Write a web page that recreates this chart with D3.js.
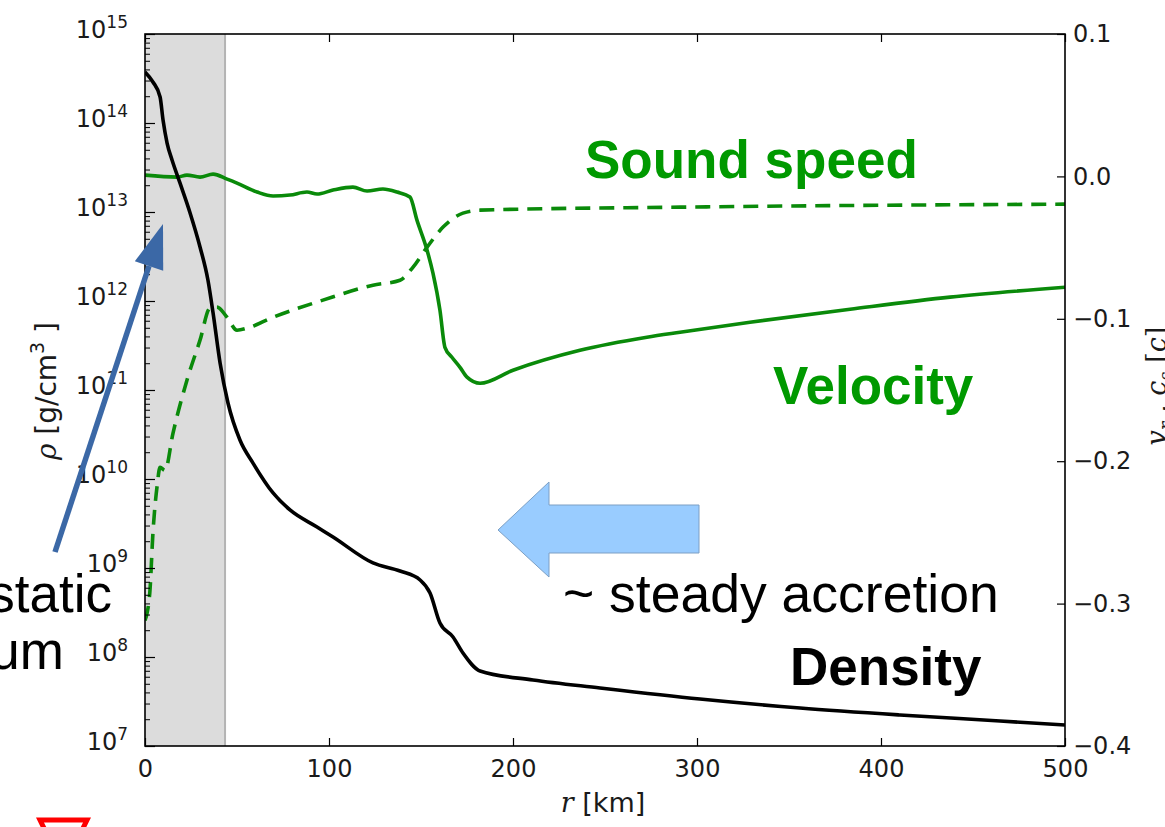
<!DOCTYPE html>
<html><head><meta charset="utf-8">
<script src="https://cdn.jsdelivr.net/npm/d3@7"></script>
<style>body{margin:0;background:#fff;overflow:hidden} svg{display:block}</style>
</head><body>
<svg id="chart" width="1165" height="827"></svg>
<script>
// ---- data ----
const densityR = [0,4.3,8.2,9.8,12.0,14.7,19.0,24.5,29.9,34.2,37.0,40.8,45.1,51.6,58.7,69.6,78.8,93.5,102.2,123.9,138.6,149.5,154.9,160.3,167.4,172.8,182.1,210.9,247.3,301.6,356.0,410.3,464.7,500];
const densityRho = [3.74e14,2.89e14,1.96e14,1.08e14,5.96e13,3.84e13,2.12e13,9.75e12,4.05e12,1.72e12,7.33e11,2.01e11,7.14e10,2.74e10,1.51e10,6.97e9,4.49e9,2.89e9,2.23e9,1.14e9,9.25e8,7.33e8,5.24e8,2.41e8,1.68e8,1.11e8,6.97e7,5.52e7,4.49e7,3.37e7,2.67e7,2.23e7,1.91e7,1.72e7];
const vrR = [0,17.4,22.8,29.9,37.0,44.6,50.0,60.9,69.6,78.8,88.0,93.5,102.2,113.0,120.7,129.3,137.0,144.0,147.8,153.3,156.5,160.3,163.0,166.8,171.2,175.0,182.1,200.0,236.4,272.8,290.8,328.8,383.2,437.5,500];
const vrV = [0.0009,-0.0005,0.0009,-0.0005,0.0016,-0.0019,-0.0047,-0.0110,-0.0138,-0.0131,-0.0110,-0.0124,-0.0096,-0.0075,-0.0103,-0.0089,-0.0110,-0.0145,-0.0307,-0.0518,-0.0680,-0.0940,-0.1200,-0.1270,-0.1341,-0.1410,-0.1453,-0.1361,-0.1221,-0.1129,-0.1094,-0.1024,-0.0933,-0.0848,-0.0778];
const csR = [0,1.1,2.7,4.3,6.5,8.2,10.9,15.2,22.8,29.9,35.3,39.1,44.6,50.0,55.4,69.6,96.7,123.9,138.6,145.7,153.3,162.0,172.8,182.1,290.8,500];
const csV = [-0.3118,-0.3069,-0.2907,-0.2507,-0.2183,-0.2043,-0.2064,-0.1804,-0.1431,-0.1150,-0.0925,-0.0918,-0.0989,-0.1080,-0.1066,-0.0989,-0.0869,-0.0764,-0.0729,-0.0637,-0.0497,-0.0356,-0.0258,-0.0237,-0.0216,-0.0195];
const shadeR = [0, 43.5];
const xTicks = [0,100,200,300,400,500];
const leftExponents = [7,8,9,10,11,12,13,14,15];
const rightTicks = [0.1,0.0,-0.1,-0.2,-0.3,-0.4];

// ---- layout ----
const svg = d3.select("#chart");
const L = 145, R = 1065, T = 34, B = 746;
const x = d3.scaleLinear().domain([0,500]).range([L,R]);
const yL = d3.scaleLog().domain([1e7,1e15]).range([B,T]);
const yR = d3.scaleLinear().domain([-0.4,0.1]).range([B,T]);
const green = "#0a8a0a";
const font = "DejaVu Sans, sans-serif";
const tickFs = 24;
const txt = "#1a1a1a";

// shaded region
svg.append("rect").attr("x", x(shadeR[0])).attr("y", T)
  .attr("width", x(shadeR[1]) - x(shadeR[0])).attr("height", B - T)
  .attr("fill", "#dcdcdc");
svg.append("line").attr("x1", x(shadeR[1])).attr("x2", x(shadeR[1]))
  .attr("y1", T).attr("y2", B).attr("stroke", "#b4b4b4").attr("stroke-width", 2);

// lines
svg.append("clipPath").attr("id","clip").append("rect")
  .attr("x",L).attr("y",T).attr("width",R-L).attr("height",B-T);
const g = svg.append("g").attr("clip-path","url(#clip)");

const dens = densityR.map((r,i)=>[r,densityRho[i]]);
const vr = vrR.map((r,i)=>[r,vrV[i]]);
const cs = csR.map((r,i)=>[r,csV[i]]);

g.append("path").datum(cs)
  .attr("d", d3.line().x(d=>x(d[0])).y(d=>yR(d[1])).curve(d3.curveMonotoneX))
  .attr("fill","none").attr("stroke",green).attr("stroke-width",3.6)
  .attr("stroke-dasharray","15,9");
g.append("path").datum(vr)
  .attr("d", d3.line().x(d=>x(d[0])).y(d=>yR(d[1])).curve(d3.curveMonotoneX))
  .attr("fill","none").attr("stroke",green).attr("stroke-width",3.6)
  .attr("stroke-linejoin","round");
g.append("path").datum(dens)
  .attr("d", d3.line().x(d=>x(d[0])).y(d=>yL(d[1])).curve(d3.curveMonotoneX))
  .attr("fill","none").attr("stroke","#000").attr("stroke-width",3.6)
  .attr("stroke-linejoin","round");

// frame
svg.append("rect").attr("x",L).attr("y",T).attr("width",R-L).attr("height",B-T)
  .attr("fill","none").attr("stroke","#000").attr("stroke-width",1.6);

// x axis
const xa = svg.append("g").attr("transform",`translate(0,${B})`)
  .call(d3.axisBottom(x).tickValues(xTicks).tickSize(-8).tickSizeOuter(0).tickPadding(14).tickFormat(d3.format("d")));
xa.select(".domain").remove();
xa.selectAll("text").attr("font-size",tickFs).attr("font-family",font).attr("fill",txt);
xa.selectAll("line").attr("stroke","#000").attr("stroke-width",1.2);
// top ticks
const xt = svg.append("g").attr("transform",`translate(0,${T})`)
  .call(d3.axisTop(x).tickValues(xTicks).tickSize(-8).tickSizeOuter(0).tickFormat(""));
xt.select(".domain").remove();
xt.selectAll("line").attr("stroke","#000").attr("stroke-width",1.2);

// left axis major
const majors = leftExponents.map(e=>Math.pow(10,e));
const la = svg.append("g").attr("transform",`translate(${L},0)`)
  .call(d3.axisLeft(yL).tickValues(majors).tickSize(-10).tickSizeOuter(0).tickPadding(17).tickFormat(()=>""));
la.select(".domain").remove();
la.selectAll("line").attr("stroke","#000").attr("stroke-width",1.2);
la.selectAll(".tick text").each(function(d){
  const t = d3.select(this).attr("font-family",font).attr("fill",txt).attr("dy","0.33em");
  t.append("tspan").attr("font-size",tickFs).text("10");
  t.append("tspan").attr("font-size",17).attr("dy",-10).text(String(Math.round(Math.log10(d))));
});
// minor ticks
const minors = [];
leftExponents.slice(0,-1).forEach(e=>{ for(let k=2;k<=9;k++) minors.push(k*Math.pow(10,e)); });
const lm = svg.append("g").attr("transform",`translate(${L},0)`)
  .call(d3.axisLeft(yL).tickValues(minors).tickSize(-5).tickSizeOuter(0).tickFormat(""));
lm.select(".domain").remove();
lm.selectAll("line").attr("stroke","#000").attr("stroke-width",1);

// right axis
const fmtR = v => (v < -1e-9 ? "\u2212" : "") + Math.abs(v).toFixed(1);
const ra = svg.append("g").attr("transform",`translate(${R},0)`)
  .call(d3.axisRight(yR).tickValues(rightTicks).tickSize(-8).tickSizeOuter(0).tickPadding(8).tickFormat(fmtR));
ra.select(".domain").remove();
ra.selectAll("text").attr("font-size",tickFs).attr("font-family",font).attr("fill",txt);
ra.selectAll("line").attr("stroke","#000").attr("stroke-width",1.2);

// axis titles
const xl = svg.append("text").attr("x",603).attr("y",812).attr("text-anchor","middle")
  .attr("font-family",font).attr("font-size",27).attr("fill",txt);
xl.append("tspan").attr("font-family","DejaVu Serif, serif").attr("font-style","italic").text("r");
xl.append("tspan").text(" [km]");

const yl = svg.append("text").attr("transform","translate(56,391) rotate(-90)").attr("text-anchor","middle")
  .attr("font-family",font).attr("font-size",28).attr("fill",txt);
yl.append("tspan").attr("font-family","DejaVu Serif, serif").attr("font-style","italic").text("ρ");
yl.append("tspan").text(" [g/cm");
yl.append("tspan").attr("font-size",19).attr("dy",-12).text("3");
yl.append("tspan").attr("dy",12).text(" ]");

const yr = svg.append("text").attr("transform","translate(1166,386) rotate(-90)").attr("text-anchor","middle")
  .attr("font-family","DejaVu Serif, serif").attr("font-size",27).attr("fill",txt);
yr.append("tspan").attr("font-style","italic").text("v");
yr.append("tspan").attr("font-style","italic").attr("font-size",18).attr("dy",6).text("r");
yr.append("tspan").attr("dy",-6).text(" , ");
yr.append("tspan").attr("font-style","italic").text("c");
yr.append("tspan").attr("font-style","italic").attr("font-size",18).attr("dy",6).text("s");
yr.append("tspan").attr("dy",-6).text(" [");
yr.append("tspan").attr("font-style","italic").text("c");
yr.append("tspan").text("]");

// annotations
const ann = "Liberation Sans, Arial, sans-serif";
svg.append("text").attr("x",585).attr("y",178).attr("font-family",ann).attr("font-weight","bold")
  .attr("font-size",53).attr("fill","#009900").text("Sound speed");
svg.append("text").attr("x",773).attr("y",404).attr("font-family",ann).attr("font-weight","bold")
  .attr("font-size",53).attr("fill","#009900").text("Velocity");
svg.append("text").attr("x",563).attr("y",612).attr("font-family",ann)
  .attr("font-size",53.5).attr("fill","#000").text("~ steady accretion");
svg.append("text").attr("x",790).attr("y",685).attr("font-family",ann).attr("font-weight","bold")
  .attr("font-size",53).attr("fill","#000").text("Density");
svg.append("text").attr("x",112).attr("y",612).attr("text-anchor","end").attr("font-family",ann)
  .attr("font-size",53).attr("fill","#000").text("static");
svg.append("text").attr("x",64).attr("y",669).attr("text-anchor","end").attr("font-family",ann)
  .attr("font-size",53).attr("fill","#000").text("um");

// light blue block arrow
svg.append("polygon")
  .attr("points","498,530 549,482 549,505 699,505 699,553 549,553 549,577")
  .attr("fill","#99ccff").attr("stroke","#7c9fc4").attr("stroke-width",1);

// dark blue arrow
svg.append("line").attr("x1",55).attr("y1",552).attr("x2",149).attr("y2",266)
  .attr("stroke","#3b68a6").attr("stroke-width",5.5);
svg.append("polygon").attr("points","163,224 134.8,261.3 163.2,270.7").attr("fill","#3b68a6");

// red triangle
svg.append("polygon").attr("points","40,820 87,820 63.5,868")
  .attr("fill","none").attr("stroke","#ff0000").attr("stroke-width",5);
</script>
</body></html>
